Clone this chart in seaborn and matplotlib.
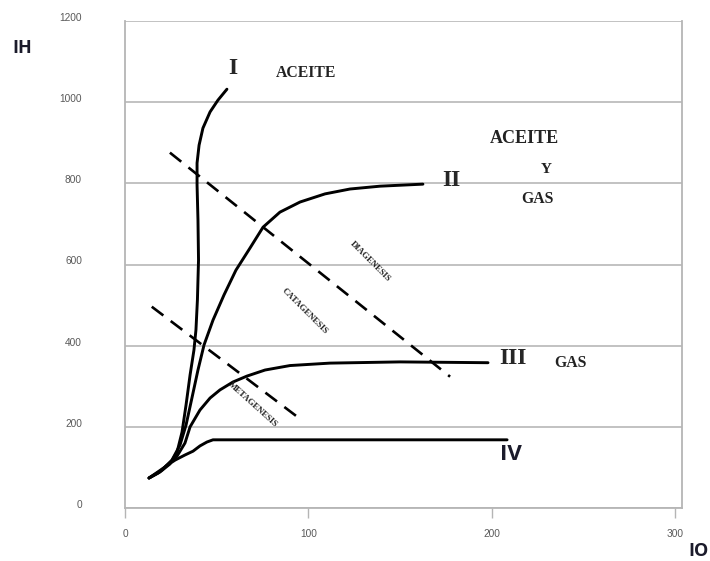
import matplotlib
matplotlib.use("Agg")
import matplotlib.pyplot as plt
import matplotlib.transforms as mtransforms
import seaborn as sns
import pandas as pd

# ---- data ----
type_I_io = [13.1, 19.1, 24.5, 28.4, 31.1, 33.3, 35.5, 37.6, 38.7, 39.5, 40.1, 39.8, 39.3, 39.3, 40.4, 42.5, 46.4, 50.7, 55.6]
type_I_ih = [73.9, 88.7, 108.4, 138, 187, 254, 328, 389, 439, 513, 611, 710, 796, 850, 894, 936, 976, 1005, 1032]

type_II_io = [13.1, 20.2, 25.6, 30.0, 33.3, 36.5, 39.8, 43.1, 48.0, 54.0, 60.5, 68.2, 75.3, 84.5, 95.5, 109.1, 122.7, 139.1, 162.5]
type_II_ih = [73.9, 93.6, 118, 155, 204.5, 271, 340, 401.7, 463, 525, 586, 640.7, 692, 729, 754, 774, 786, 793, 798]

type_III_io = [13.1, 21.8, 28.4, 32.7, 35.5, 40.9, 46.4, 51.8, 58.9, 66.5, 76.4, 90.0, 111.8, 150.0, 198.0]
type_III_ih = [73.9, 101, 128, 160, 200, 241.5, 271, 291, 310.5, 325, 340, 351, 357, 360, 358]

type_IV_io = [13.1, 18.0, 22.4, 27.3, 32.7, 37.1, 40.9, 44.7, 48.0, 208.4]
type_IV_ih = [73.9, 86, 103.5, 118, 130.6, 140, 153, 162.6, 168, 168]

diag_io = [24.5, 177.3]
diag_ih = [875.6, 323.6]
meta_io = [14.6, 95.8]
meta_ih = [496, 218.5]

x_ticks = [0, 100, 200, 300]
y_ticks = [0, 200, 400, 600, 800, 1000, 1200]

# ---- figure ----
sns.set_theme(style="white")
plt.rcParams["font.family"] = ["Liberation Sans", "DejaVu Sans"]

fig = plt.figure(figsize=(7.10, 5.61), dpi=100)
ax = fig.add_axes([125 / 710, 1 - 508 / 561, (682 - 125) / 710, (508 - 21) / 561])

curves = [
    (type_I_io, type_I_ih),
    (type_II_io, type_II_ih),
    (type_III_io, type_III_ih),
    (type_IV_io, type_IV_ih),
]
for xs, ys in curves:
    df = pd.DataFrame({"IO": xs, "IH": ys})
    sns.lineplot(data=df, x="IO", y="IH", sort=False, estimator=None,
                 color="black", linewidth=2.1, ax=ax, zorder=3)

for xs, ys in [(diag_io, diag_ih), (meta_io, meta_ih)]:
    df = pd.DataFrame({"IO": xs, "IH": ys})
    sns.lineplot(data=df, x="IO", y="IH", sort=False, estimator=None,
                 color="black", linewidth=1.9, ax=ax, zorder=3,
                 linestyle=(0, (5.5, 3.5)))

ax.set_xlim(0, 303.8)
ax.set_ylim(0, 1200)
ax.set_xticks(x_ticks)
ax.set_yticks(y_ticks)
ax.set_xlabel("")
ax.set_ylabel("")

ax.grid(axis="y", color="#bdbdbd", linewidth=1.3)
ax.grid(axis="x", visible=False)
ax.set_axisbelow(True)

for side in ["left", "bottom", "right"]:
    ax.spines[side].set_visible(True)
    ax.spines[side].set_color("#b5b5b5")
    ax.spines[side].set_linewidth(1.3)
ax.spines["top"].set_visible(False)

ax.tick_params(axis="x", direction="out", length=7, width=1.0, color="#b5b5b5",
               pad=8, labelsize=7.3, labelcolor="#595959", bottom=True)
ax.tick_params(axis="y", length=0, pad=31, labelsize=7.3, labelcolor="#595959", left=True)

offset = mtransforms.ScaledTranslation(0, 4 / 100, fig.dpi_scale_trans)
for lab in ax.get_yticklabels():
    lab.set_transform(lab.get_transform() + offset)

serif = ["Liberation Serif", "DejaVu Serif"]
sans = ["Open Sans", "DejaVu Sans"]
dark = "#1b1b2b"

ax.text(58.9, 1084, "I", family=serif, fontweight="bold", fontsize=17, ha="center", va="center")
ax.text(178.2, 807, "II", family=serif, fontweight="bold", fontsize=17, ha="center", va="center")
ax.text(211.4, 369, "III", family=serif, fontweight="bold", fontsize=17, ha="center", va="center")
ax.text(210.4, 131, "IV", family=sans, fontweight="bold", fontsize=16, ha="center", va="center", color=dark)

ax.text(98.9, 1073, "ACEITE", family=serif, fontweight="bold", fontsize=11.3, ha="center", va="center", color="#222222")
ax.text(217.9, 911, "ACEITE", family=serif, fontweight="bold", fontsize=13, ha="center", va="center", color="#222222")
ax.text(230, 833, "Y", family=serif, fontweight="bold", fontsize=11, ha="center", va="center", color="#222222")
ax.text(225.2, 762, "GAS", family=serif, fontweight="bold", fontsize=11.3, ha="center", va="center", color="#222222")
ax.text(243.2, 358.5, "GAS", family=serif, fontweight="bold", fontsize=11.3, ha="center", va="center", color="#222222")

ax.text(133.6, 607, "DIAGENESIS", family=serif, fontweight="bold", fontsize=6.3, rotation=-45,
        rotation_mode="anchor", ha="center", va="center", color="#222222")
ax.text(98.2, 484, "CATAGENESIS", family=serif, fontweight="bold", fontsize=6.3, rotation=-45,
        rotation_mode="anchor", ha="center", va="center", color="#222222")
ax.text(69.8, 254, "METAGENESIS", family=serif, fontweight="bold", fontsize=6.3, rotation=-42,
        rotation_mode="anchor", ha="center", va="center", color="#222222")

fig.text(22 / 710, 1 - 48.3 / 561, "IH", family=sans, fontweight="bold", fontsize=13,
         ha="center", va="center", color=dark)
fig.text(699 / 710, 1 - 551 / 561, "IO", family=sans, fontweight="bold", fontsize=13,
         ha="center", va="center", color=dark)

fig.savefig("out.png", dpi=100)
